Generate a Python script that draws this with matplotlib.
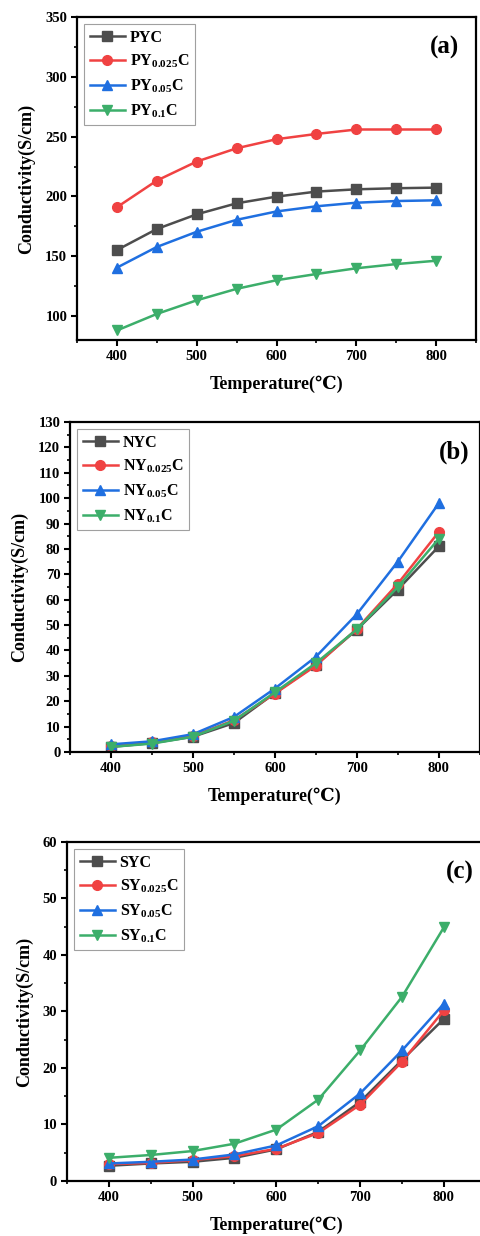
import numpy as np
import matplotlib
matplotlib.use('Agg')
import matplotlib.pyplot as plt
from matplotlib.ticker import MultipleLocator

plt.rcParams['font.family'] = ['Liberation Serif', 'DejaVu Serif']
plt.rcParams['font.weight'] = 'bold'
plt.rcParams['mathtext.fontset'] = 'custom'
plt.rcParams['mathtext.rm'] = 'Liberation Serif:bold'
plt.rcParams['mathtext.it'] = 'Liberation Serif:bold'
plt.rcParams['mathtext.bf'] = 'Liberation Serif:bold'

# data
temps = [400, 450, 500, 550, 600, 650, 700, 750, 800]

pyc = [155.2, 172.8, 185.1, 194.3, 199.9, 204.1, 206.0, 206.9, 207.4]
py0025 = [191.0, 213.3, 229.2, 240.3, 247.9, 252.3, 256.0, 256.0, 256.0]
py005 = [140.5, 157.8, 170.5, 180.5, 187.5, 191.8, 194.8, 196.2, 196.8]
py01 = [88.0, 101.8, 113.2, 122.8, 130.0, 135.2, 140.0, 143.5, 146.3]

nyc = [2.0, 3.5, 6.0, 11.4, 23.2, 34.4, 48.2, 64.0, 81.0]
ny0025 = [2.5, 3.8, 6.3, 12.5, 23.0, 34.0, 48.5, 66.3, 86.7]
ny005 = [3.0, 4.2, 7.0, 13.8, 25.0, 37.5, 54.3, 75.0, 98.0]
ny01 = [2.0, 3.3, 6.0, 12.3, 23.5, 35.0, 48.3, 65.0, 84.0]

syc = [2.7, 3.1, 3.4, 4.1, 5.6, 8.7, 14.0, 21.4, 28.7]
sy0025 = [3.0, 3.2, 3.7, 4.4, 5.7, 8.5, 13.5, 21.1, 30.2]
sy005 = [3.1, 3.4, 3.8, 4.7, 6.3, 9.7, 15.5, 23.1, 31.4]
sy01 = [4.1, 4.6, 5.3, 6.6, 9.1, 14.4, 23.1, 32.6, 44.9]

suffixes = ['C', '$_{0.025}$C', '$_{0.05}$C', '$_{0.1}$C']
colors = ['#4d4d4d', '#f04242', '#1f6fe0', '#3cae6a']
markers = ['s', 'o', '^', 'v']

panels = [
    ('PY', [pyc, py0025, py005, py01], (80, 350), 50, 25, '(a)',
     [0.160, 0.7249, 0.830, 0.2613], (0.92, 0.907)),
    ('NY', [nyc, ny0025, ny005, ny01], (0, 130), 10, 5, '(b)',
     [0.1455, 0.3916, 0.852, 0.2670], (0.937, 0.909)),
    ('SY', [syc, sy0025, sy005, sy01], (0, 60), 10, 5, '(c)',
     [0.139, 0.0445, 0.871, 0.2743], (0.938, 0.911)),
]

fig = plt.figure(figsize=(4.81, 12.36), dpi=100)

for prefix, series, ylim, ymaj, ymin, tag, rect, tagpos in panels:
    ax = fig.add_axes(rect)
    for i in range(4):
        ax.plot(temps, series[i], color=colors[i], marker=markers[i],
                markersize=7, linewidth=1.8, label=prefix + suffixes[i])
    ax.set_xlim(350, 850)
    ax.set_ylim(*ylim)
    ax.xaxis.set_major_locator(MultipleLocator(100))
    ax.xaxis.set_minor_locator(MultipleLocator(50))
    ax.yaxis.set_major_locator(MultipleLocator(ymaj))
    ax.yaxis.set_minor_locator(MultipleLocator(ymin))
    ax.tick_params(which='major', direction='out', length=4, width=1.5,
                   labelsize=10.5, pad=3)
    ax.tick_params(which='minor', direction='out', length=2.5, width=1.2)
    for lbl in ax.get_xticklabels() + ax.get_yticklabels():
        lbl.set_fontweight('bold')
    for s in ax.spines.values():
        s.set_linewidth(1.6)
    ax.set_xlabel('Temperature(℃)', fontsize=13, fontweight='bold',
                  labelpad=9)
    ax.set_ylabel('Conductivity(S/cm)', fontsize=13, fontweight='bold',
                  labelpad=7)
    ax.text(tagpos[0], tagpos[1], tag, transform=ax.transAxes, fontsize=18,
            fontweight='bold', ha='center', va='center')
    leg = ax.legend(loc='upper left', fontsize=11.5, handlelength=2.2,
                    labelspacing=0.45, borderpad=0.35, handletextpad=0.3,
                    fancybox=False, framealpha=1, borderaxespad=0.45)
    leg.get_frame().set_edgecolor('#a0a0a0')
    leg.get_frame().set_linewidth(0.8)
    for t in leg.get_texts():
        t.set_fontweight('bold')

fig.savefig('out.png', dpi=100)
